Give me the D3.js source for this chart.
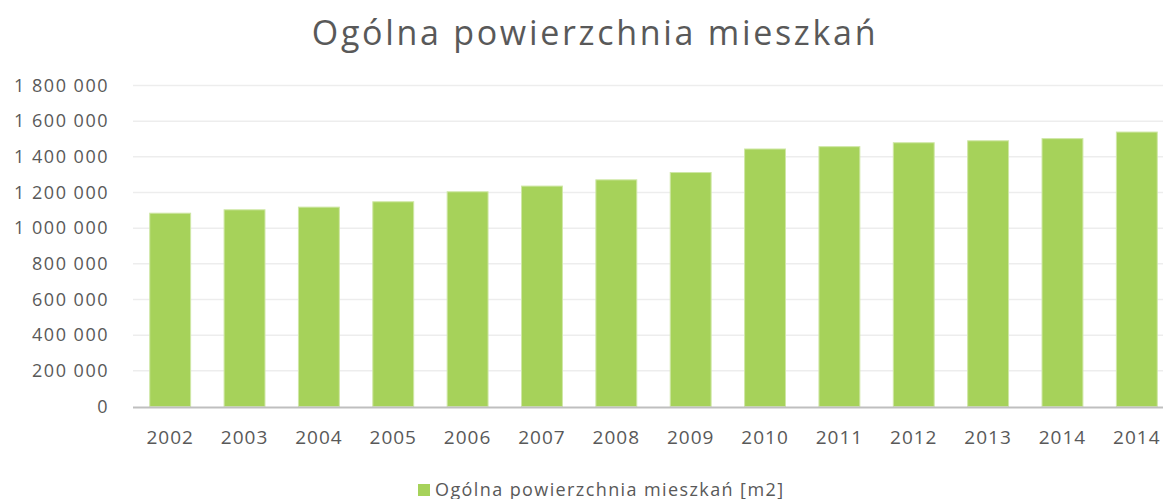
<!DOCTYPE html>
<html>
<head>
<meta charset="utf-8">
<script src="https://cdn.jsdelivr.net/npm/d3@7"></script>
<style>
  body { margin: 0; background: #fff; }
  svg { font-family: "Open Sans", sans-serif; }
</style>
</head>
<body>
<svg id="chart" width="1163" height="499"></svg>
<script>
// data
var years = ["2002", "2003", "2004", "2005", "2006", "2007", "2008",
             "2009", "2010", "2011", "2012", "2013", "2014", "2014 "];
var area = [1084000, 1103000, 1118000, 1148000, 1204000, 1236000, 1271000,
            1312000, 1444000, 1457000, 1479000, 1490000, 1502000, 1539000];
var yTicks = [0, 200000, 400000, 600000, 800000, 1000000, 1200000, 1400000, 1600000, 1800000];

var chartTitle = "Ogólna powierzchnia mieszkań";
var seriesName = "Ogólna powierzchnia mieszkań [m2]";

var svg = d3.select("#chart");
var barColor = "#a6d25a";

var x = d3.scaleBand().domain(years).range([133, 1174]).paddingInner(0.45).paddingOuter(0.225);
var y = d3.scaleLinear().domain([0, 1800000]).range([406.5, 85.5]);

// format like "1 800 000"
var fmt = function(d) { return d3.format(",")(d).replace(/,/g, " "); };

// gridlines
svg.append("g").selectAll("line").data(yTicks.slice(1)).enter().append("line")
    .attr("x1", 133).attr("x2", 1163)
    .attr("y1", function(d){ return y(d); }).attr("y2", function(d){ return y(d); })
    .attr("stroke", "#ededed").attr("stroke-width", 1.5);

// y tick labels
svg.append("g").selectAll("text").data(yTicks).enter().append("text")
    .attr("x", 109).attr("y", function(d){ return y(d); })
    .attr("dy", "0.35em")
    .attr("text-anchor", "end")
    .attr("fill", "#595959").attr("font-size", 18)
    .attr("letter-spacing", 1.5)
    .text(fmt);

// bars
svg.append("g").selectAll("rect").data(area).enter().append("rect")
    .attr("x", function(d, i){ return x(years[i]); })
    .attr("width", x.bandwidth())
    .attr("y", function(d){ return y(d); })
    .attr("height", function(d){ return y(0) - y(d); })
    .attr("fill", barColor)
    .attr("stroke", "#cfe7a6").attr("stroke-width", 1);

// baseline axis
svg.append("line")
    .attr("x1", 133).attr("x2", 1163)
    .attr("y1", y(0) + 1).attr("y2", y(0) + 1)
    .attr("stroke", "#bfbfbf").attr("stroke-width", 2);

// x labels
svg.append("g").selectAll("text").data(years).enter().append("text")
    .attr("x", function(d){ return x(d) + x.bandwidth() / 2; })
    .attr("y", 444)
    .attr("text-anchor", "middle")
    .attr("fill", "#595959").attr("font-size", 19)
    .attr("letter-spacing", 1)
    .text(function(d){ return d.trim(); });

// title
svg.append("text")
    .attr("x", 595).attr("y", 45)
    .attr("text-anchor", "middle")
    .attr("fill", "#595959").attr("font-size", 34)
    .attr("letter-spacing", 2.7)
    .text(chartTitle);

// legend
var legend = svg.append("g");
legend.append("rect")
    .attr("x", 418).attr("y", 484).attr("width", 12).attr("height", 12)
    .attr("fill", barColor);
legend.append("text")
    .attr("x", 435).attr("y", 496)
    .attr("fill", "#595959").attr("font-size", 18)
    .attr("letter-spacing", 1.4)
    .text(seriesName);
</script>
</body>
</html>
